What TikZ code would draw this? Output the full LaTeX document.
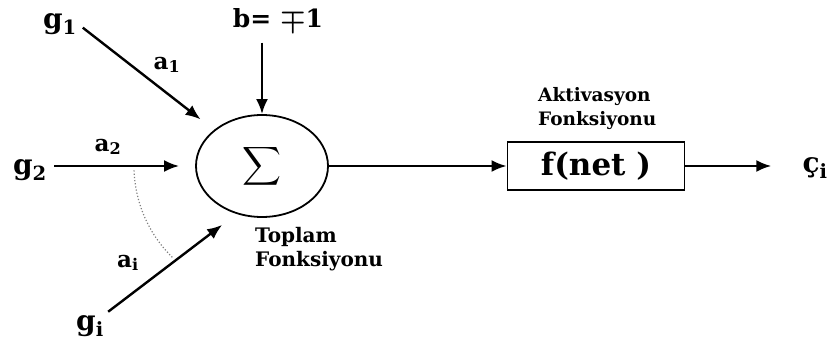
\documentclass[tikz,border=0pt]{standalone}
\usepackage{amsmath}
\usepackage{fontspec}
\setmainfont{DejaVu Serif}
\usetikzlibrary{arrows.meta,positioning,calc,shapes.geometric}
\tikzset{
  inarrow/.style={draw=black,line width=2.4pt,-{Latex[length=15pt,width=12pt]}},
  sig/.style={font=\fontsize{28}{30}\selectfont\bfseries,inner sep=1pt},
  wgt/.style={font=\fontsize{23}{26}\selectfont\bfseries,inner sep=1pt},
  fnlabel/.style={font=\fontsize{20}{24}\selectfont\bfseries,align=left,inner sep=0pt},
}

\begin{document}
\begin{tikzpicture}[x=1pt,y=1pt]
\useasboundingbox (0,0) rectangle (832,350);
\node[ellipse,draw,line width=1.8pt,minimum width=132pt,minimum height=102pt,inner sep=0pt] (sum) at (262,184) {\raisebox{4pt}{\scalebox{2.7}{$\displaystyle\sum$}}\hspace{12pt}};
\node[draw,line width=1.8pt,minimum width=177pt,minimum height=48pt,font=\fontsize{31}{32}\selectfont\bfseries] (box) at (596,184) {f(net )};
\node[sig] (g1) at (60,326) {g\textsubscript{1}};
\node[sig] (g2) at (30,180) {g\textsubscript{2}};
\node[sig] (gi) at (90,24) {g\textsubscript{i}};
\node[sig,font=\fontsize{25}{27}\selectfont\bfseries] (b) at (278,330) {b= \scalebox{1.15}{$\boldsymbol{\mp}$}1};
\node[sig] (out) at (815,182) {ç\textsubscript{i}};
\node[wgt] (a1) at (167,285) {a\textsubscript{1}};
\node[wgt] (a2) at (108,203) {a\textsubscript{2}};
\node[wgt] (ai) at (128,87) {a\textsubscript{i}};
\node[fnlabel,anchor=west] (toplam) at (255,101) {Toplam\\Fonksiyonu};
\node[fnlabel,anchor=west,font=\fontsize{18.5}{24}\selectfont\bfseries] (aktiv) at (538,241) {Aktivasyon\\Fonksiyonu};
\draw[inarrow,shorten <=6pt,shorten >=17pt] (g1.east) -- (sum.143);
\draw[inarrow,shorten <=6pt,shorten >=16pt] (g2.east |- sum) -- (sum.west);
\draw[inarrow,shorten <=4pt,shorten >=18pt] (gi.north east) -- (sum.242);
\draw[inarrow,shorten <=10pt] (b.south -| sum.north) -- (sum.north);
\draw[inarrow] (sum.east) -- (box.west);
\draw[inarrow,shorten >=30pt] (box.east) -- (box.east -| out.west);
\draw[dotted,line width=1.2pt,gray] (sum.center) ++(182:128) arc[start angle=182,end angle=226,radius=128];
\end{tikzpicture}
\end{document}
